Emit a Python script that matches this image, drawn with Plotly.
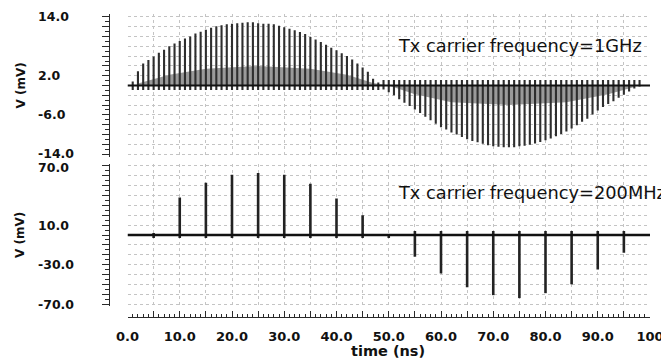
import plotly.graph_objects as go

# ---------------- data ----------------
# top panel: 1 GHz carrier, one stroke per ns
top_time_pos = list(range(1, 49))
top_peak_pos = [0.8, 2.9, 4.5, 5.2, 5.9, 6.7, 7.3, 8.0, 8.6, 9.1,
                9.6, 10.0, 10.6, 11.0, 11.4, 11.8, 12.1, 12.3, 12.5, 12.6,
                12.7, 12.8, 12.9, 12.9, 12.7, 12.6, 12.6, 12.5, 12.2, 11.9,
                11.6, 11.3, 10.9, 10.5, 9.9, 9.4, 8.9, 8.3, 7.7, 7.2,
                6.6, 6.0, 5.3, 4.5, 3.7, 2.8, 1.4, 0.6]
top_time_neg = list(range(49, 99))
top_peak_neg = [-0.8, -1.4, -2.0, -2.8, -3.5, -4.2, -4.9, -5.6, -6.4, -7.1,
                -7.8, -8.5, -9.0, -9.6, -10.0, -10.5, -11.0, -11.35, -11.6, -11.9,
                -12.2, -12.4, -12.5, -12.6, -12.6, -12.6, -12.4, -12.3, -12.1, -11.85,
                -11.55, -11.2, -10.8, -10.35, -9.9, -9.4, -8.8, -8.1, -7.4, -6.8,
                -5.9, -5.1, -4.4, -3.8, -3.2, -2.5, -1.9, -1.2, -0.6, -0.2]
top_back_pos = -0.9   # small opposite swing in positive half
top_back_neg = 1.1    # small opposite swing in negative half
top_shade_t = [2, 8, 15, 25, 35, 42, 47, 50, 55, 62, 73, 84, 92, 97]
top_shade_v = [0.4, 2.2, 3.4, 4.0, 3.4, 2.2, 0.5, 0.0, -1.8, -3.4, -4.0, -3.4, -1.8, -0.3]

# bottom panel: 200 MHz carrier, one pulse per 5 ns
bot_pulse_t = [5, 10, 15, 20, 25, 30, 35, 40, 45, 50,
               55, 60, 65, 70, 75, 80, 85, 90, 95]
bot_pulse_v = [2, 38, 53, 61, 63, 61, 52, 37, 20, 0.5,
               -22, -39, -53, -61, -64, -59, -50, -35, -18]
bot_back_pos = -3
bot_back_neg = 4

time_span = [0.0, 100.0]
baseline_mv = [0.0, 0.0]

top_ticks = [14.0, 2.0, -6.0, -14.0]
bot_ticks = [70.0, 10.0, -30.0, -70.0]
x_tick_vals = list(range(0, 101, 5))
x_tick_text = ["0.0" if v == 0 else ("100" if v == 100 else (f"{v}.0" if v % 10 == 0 else "")) for v in x_tick_vals]

# ---------------- geometry (page body has an 8px margin) ----------------
OFF = 8
W, H = 669 - OFF, 360 - OFF
def fx(px): return (px - OFF) / W
def fy(py): return 1 - (py - OFF) / H

xdom = [fx(127.5), fx(650)]
top_dom = [fy(157), fy(14)]
bot_dom = [fy(306), fy(164)]
top_range = [-14.6, 14.6]
bot_range = [-72, 72]

FONT = "DejaVu Sans"
DARK = "#2a2a2a"

def segs(ts, lows, highs):
    xs, ys = [], []
    for t, lo, hi in zip(ts, lows, highs):
        xs += [t, t, None]
        ys += [lo, hi, None]
    return xs, ys

fig = go.Figure()

# top panel
fig.add_trace(go.Scatter(x=top_shade_t, y=top_shade_v, mode="lines", fill="tozeroy",
                         fillcolor="#9a9a9a", line=dict(width=0),
                         xaxis="x2", yaxis="y2", hoverinfo="skip", showlegend=False))
xs, ys = segs(top_time_pos, [top_back_pos] * len(top_time_pos), top_peak_pos)
fig.add_trace(go.Scatter(x=xs, y=ys, mode="lines", line=dict(color="#2e2e2e", width=2.1),
                         xaxis="x2", yaxis="y2", hoverinfo="skip", showlegend=False))
xs, ys = segs(top_time_neg, [top_back_neg] * len(top_time_neg), top_peak_neg)
fig.add_trace(go.Scatter(x=xs, y=ys, mode="lines", line=dict(color="#2e2e2e", width=2.1),
                         xaxis="x2", yaxis="y2", hoverinfo="skip", showlegend=False))
fig.add_trace(go.Scatter(x=time_span, y=baseline_mv, mode="lines", line=dict(color="#111111", width=2),
                         xaxis="x2", yaxis="y2", hoverinfo="skip", showlegend=False))

# bottom panel
lows = [bot_back_pos if v > 0 else bot_back_neg for v in bot_pulse_v]
xs, ys = segs(bot_pulse_t, lows, bot_pulse_v)
fig.add_trace(go.Scatter(x=xs, y=ys, mode="lines", line=dict(color="#222222", width=2.6),
                         xaxis="x", yaxis="y", hoverinfo="skip", showlegend=False))
fig.add_trace(go.Scatter(x=time_span, y=baseline_mv, mode="lines", line=dict(color="#111111", width=2.4),
                         xaxis="x", yaxis="y", hoverinfo="skip", showlegend=False))

# invisible traces to attach the ruler axes
fig.add_trace(go.Scatter(x=time_span, y=baseline_mv, mode="lines", line=dict(width=0), opacity=0,
                         xaxis="x3", yaxis="y", hoverinfo="skip", showlegend=False))
fig.add_trace(go.Scatter(x=time_span, y=baseline_mv, mode="lines", line=dict(width=0), opacity=0,
                         xaxis="x2", yaxis="y3", hoverinfo="skip", showlegend=False))
fig.add_trace(go.Scatter(x=time_span, y=baseline_mv, mode="lines", line=dict(width=0), opacity=0,
                         xaxis="x", yaxis="y4", hoverinfo="skip", showlegend=False))

grid = dict(showgrid=True, gridcolor="#c4c4c4", gridwidth=1, griddash="dot",
            zeroline=False, showline=False, ticks="", showticklabels=False)

tickfont = dict(family=FONT, size=13, color="#111111", weight="bold")
ylabfont = dict(family=FONT, size=12.5, color="#111111", weight="bold")

annotations = []
for v in top_ticks:
    annotations.append(dict(text=f"{v:.1f}", x=fx(37), xref="paper", xanchor="left",
                            y=v, yref="y2", yanchor="middle", showarrow=False,
                            yshift=1 if v == top_ticks[-1] else 0,
                            borderpad=0, font=ylabfont))
for v in bot_ticks:
    annotations.append(dict(text=f"{v:.1f}", x=fx(37), xref="paper", xanchor="left",
                            y=v, yref="y", yanchor="middle", showarrow=False,
                            yshift=-1.5 if v == bot_ticks[0] else 0,
                            borderpad=0, font=ylabfont))
for yc in (85.5, 235):
    annotations.append(dict(text="V (mV)", x=fx(20), xref="paper", xanchor="center",
                            y=fy(yc), yref="paper", yanchor="middle", textangle=-90,
                            showarrow=False, font=dict(family=FONT, size=12, color="#111111", weight="bold")))
annotations.append(dict(text="time (ns)", x=fx(388), xref="paper", xanchor="center",
                        y=fy(350.5), yref="paper", yanchor="middle", showarrow=False, borderpad=0,
                        font=dict(family=FONT, size=14.5, color="#111111", weight="bold")))
annotations.append(dict(text="Tx carrier frequency=1GHz", x=fx(396), xref="paper", xanchor="left",
                        y=fy(46), yref="paper", yanchor="middle", showarrow=False,
                        font=dict(family=FONT, size=17.8, color="#111111")))
annotations.append(dict(text="Tx carrier frequency=200MHz", x=fx(396), xref="paper", xanchor="left",
                        y=fy(192), yref="paper", yanchor="middle", showarrow=False,
                        font=dict(family=FONT, size=17.8, color="#111111")))

fig.update_layout(
    template="none",
    width=W, height=H,
    margin=dict(l=0, r=0, t=0, b=0),
    paper_bgcolor="white", plot_bgcolor="white",
    showlegend=False,
    xaxis=dict(domain=xdom, range=time_span, anchor="y", dtick=5, tick0=0, **grid),
    xaxis2=dict(domain=xdom, range=time_span, anchor="y2", dtick=5, tick0=0, **grid),
    yaxis=dict(domain=bot_dom, range=bot_range, anchor="x", dtick=10, tick0=0, **grid),
    yaxis2=dict(domain=top_dom, range=top_range, anchor="x2", dtick=2, tick0=0, **grid),
    xaxis3=dict(domain=xdom, range=time_span, overlaying="x", anchor="free", position=fy(317),
                side="bottom", showgrid=False, zeroline=False,
                showline=True, linecolor=DARK, linewidth=1,
                tickmode="array", tickvals=x_tick_vals, ticktext=x_tick_text,
                ticks="inside", ticklen=6, tickcolor=DARK, tickwidth=1,
                minor=dict(dtick=1, tick0=0, ticks="inside", ticklen=3, tickcolor=DARK, showgrid=False),
                tickfont=tickfont, ticklabelstandoff=7),
    yaxis3=dict(domain=top_dom, range=top_range, overlaying="y2", anchor="free", position=fx(109),
                side="left", showgrid=False, zeroline=False,
                showline=True, linecolor=DARK, linewidth=1,
                tickmode="array", tickvals=list(range(-14, 15, 2)), showticklabels=False,
                ticks="outside", ticklen=7, tickcolor=DARK, tickwidth=1,
                minor=dict(dtick=1, tick0=0, ticks="outside", ticklen=4, tickcolor=DARK, showgrid=False)),
    yaxis4=dict(domain=bot_dom, range=bot_range, overlaying="y", anchor="free", position=fx(109),
                side="left", showgrid=False, zeroline=False,
                showline=True, linecolor=DARK, linewidth=1,
                tickmode="array", tickvals=list(range(-70, 71, 10)), showticklabels=False,
                ticks="outside", ticklen=7, tickcolor=DARK, tickwidth=1,
                minor=dict(dtick=5, tick0=0, ticks="outside", ticklen=4, tickcolor=DARK, showgrid=False)),
    annotations=annotations,
)

fig.write_html("out.html")
